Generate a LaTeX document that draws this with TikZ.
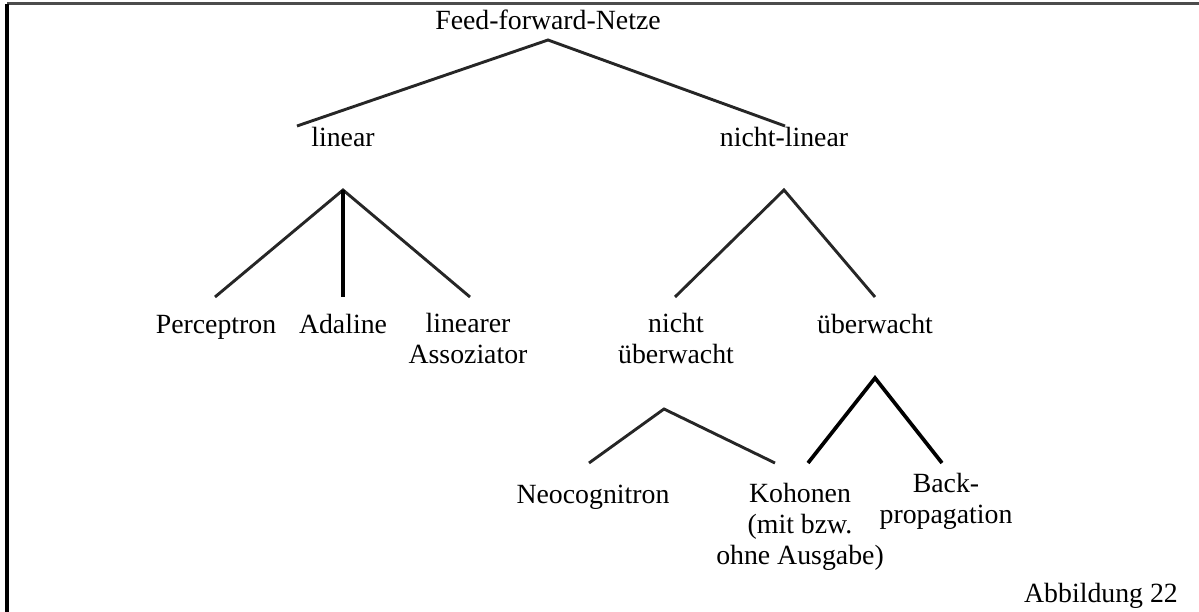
\documentclass[tikz,border=0pt]{standalone}
\usepackage{fontspec}
\setmainfont{Liberation Serif}
\begin{document}
\begin{tikzpicture}[x=1pt,y=-1pt,
  lbl/.style={inner sep=0pt, font=\fontsize{27.8}{31}\selectfont},
  ml/.style={lbl, align=center, anchor=north},
  branch/.style={draw=black!85, line width=2.9pt},
  stem/.style={draw=black, line width=4.2pt},
  heavy/.style={draw=black, line width=3.7pt},
  frame/.style={line width=3pt}]
\useasboundingbox (0,0) rectangle (1199,612);

% frame: top rule and left rule
\coordinate (fTL) at (7,4);
\coordinate (fTR) at (1199,4);
\coordinate (fBL) at (7,612);
\draw[frame, black!70] (fTL) -- (fTR);
\draw[frame, black, line width=3.8pt] (fTL) -- (fBL);

% labels
\node[lbl, anchor=base] (ffn) at (548,30) {Feed-forward-Netze};
\node[lbl, anchor=base] (lin) at (343,147) {linear};
\node[lbl, anchor=base] (nlin) at (784,147) {nicht-linear};
\node[lbl, anchor=base] (perc) at (216,333) {Perceptron};
\node[lbl, anchor=base] (ada) at (343,333) {Adaline};
\node[ml] (assoz) at (468,313) {linearer\\Assoziator};
\node[ml] (nueb) at (676,313) {nicht\\überwacht};
\node[lbl, anchor=base] (ueb) at (875,333) {überwacht};
\node[lbl, anchor=base] (neo) at (593,503) {Neocognitron};
\node[ml] (koh) at (800,483) {Kohonen\\(mit bzw.\\ohne Ausgabe)};
\node[ml] (back) at (946,473) {Back-\\propagation};
\node[lbl, anchor=base] (abb) at (1101,602) {Abbildung 22};

% branching points below the parent labels
\coordinate (j0) at (548,40);
\coordinate (j1) at (343,190);
\coordinate (j2) at (784,190);
\coordinate (j3) at (664,409);
\coordinate (j4) at (875,378);

% line ends above the child labels
\coordinate (e-lin) at (297,126);
\coordinate (e-nlin) at (785,126);
\coordinate (e-perc) at (215,297);
\coordinate (e-ada) at (343,297);
\coordinate (e-assoz) at (470,297);
\coordinate (e-nueb) at (675,297);
\coordinate (e-ueb) at (875,297);
\coordinate (e-neo) at (589,463);
\coordinate (e-koh1) at (775,463);
\coordinate (e-koh2) at (808,463);
\coordinate (e-back) at (942,463);

% connectors
\draw[branch] (e-lin) -- (j0) -- (e-nlin);
\draw[branch] (e-perc) -- (j1) -- (e-assoz);
\draw[stem] (j1) -- (e-ada);
\draw[branch] (e-nueb) -- (j2) -- (e-ueb);
\draw[branch] (e-neo) -- (j3) -- (e-koh1);
\draw[heavy] (e-koh2) -- (j4) -- (e-back);
\end{tikzpicture}
\end{document}
